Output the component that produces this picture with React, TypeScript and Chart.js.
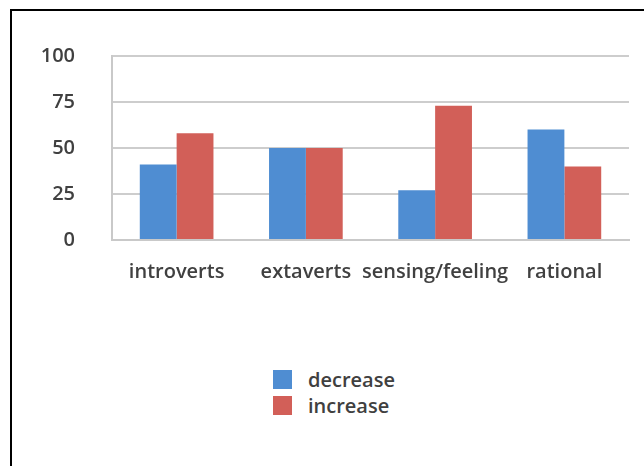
import React, { useEffect, useRef } from "react";
import { Chart, registerables } from "chart.js";

Chart.register(...registerables);

const categories = ["introverts", "extaverts", "sensing/feeling", "rational"];
const seriesNames = ["decrease", "increase"];
const decreaseValues = [41, 50, 27, 60];
const increaseValues = [58, 50, 73, 40];
const seriesColors = ["#4f8dd2", "#d25f58"];
const yTicks = [0, 25, 50, 75, 100];

const FONT = "'Open Sans', 'Noto Sans', sans-serif";

export default function App() {
  const ref = useRef<HTMLCanvasElement | null>(null);

  useEffect(() => {
    if (!ref.current) return;
    const chart = new Chart(ref.current, {
      type: "bar",
      data: {
        labels: categories,
        datasets: [
          {
            label: seriesNames[0],
            data: decreaseValues,
            backgroundColor: seriesColors[0],
            borderWidth: 0,
            barPercentage: 1,
            categoryPercentage: 0.57,
          },
          {
            label: seriesNames[1],
            data: increaseValues,
            backgroundColor: seriesColors[1],
            borderWidth: 0,
            barPercentage: 1,
            categoryPercentage: 0.57,
          },
        ],
      },
      options: {
        animation: false,
        responsive: false,
        devicePixelRatio: 1,
        layout: { padding: { left: 0, right: 15, top: 56, bottom: 0 } },
        plugins: { legend: { display: false }, tooltip: { enabled: false } },
        scales: {
          x: {
            afterFit: (scale: any) => {
              scale.height = 60;
            },
            grid: { display: false, drawTicks: false },
            border: { display: true, color: "#c9c9c9", width: 2 },
            ticks: {
              color: "#404040",
              font: { family: FONT, size: 20, weight: "600" },
              padding: 20,
              maxRotation: 0,
              autoSkip: false,
            },
          },
          y: {
            min: 0,
            max: 100,
            afterFit: (scale: any) => {
              scale.width = 112;
            },
            afterBuildTicks: (scale: any) => {
              scale.ticks = yTicks.map((v) => ({ value: v }));
            },
            grid: { color: "#cdcdcd", lineWidth: 2, drawTicks: false },
            border: { display: true, color: "#c9c9c9", width: 2 },
            ticks: {
              color: "#404040",
              font: { family: FONT, size: 20, weight: "600" },
              padding: 37,
            },
          },
        },
      },
    });
    return () => chart.destroy();
  }, []);

  return (
    <div
      style={{
        position: "fixed",
        left: 0,
        top: 0,
        width: 644,
        height: 466,
        overflow: "hidden",
        background: "#fff",
      }}
    >
      <div
        style={{
          position: "absolute",
          left: 10,
          top: 9,
          right: -10,
          bottom: -10,
          borderTop: "2px solid #000",
          borderLeft: "2px solid #000",
        }}
      />
      <canvas
        ref={ref}
        width={644}
        height={300}
        style={{ position: "absolute", left: 0, top: 0, width: 644, height: 300 }}
      />
      {seriesNames.map((name, i) => (
        <div
          key={name}
          style={{
            position: "absolute",
            left: 273,
            top: 366 + i * 26,
            height: 26,
            display: "flex",
            alignItems: "center",
            fontFamily: FONT,
            fontSize: 20,
            fontWeight: 600,
            color: "#404040",
            whiteSpace: "nowrap",
          }}
        >
          <span
            style={{
              display: "inline-block",
              width: 19,
              height: 19,
              background: seriesColors[i],
              marginRight: 16,
            }}
          />
          {name}
        </div>
      ))}
    </div>
  );
}
